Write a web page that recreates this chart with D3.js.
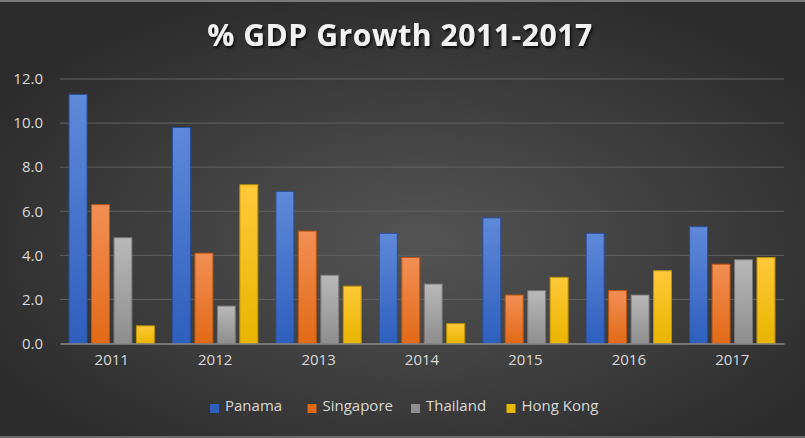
<!DOCTYPE html>
<html><head><meta charset="utf-8">
<script src="https://cdn.jsdelivr.net/npm/d3@7"></script>
<style>html,body{margin:0;padding:0;background:#333;}svg{display:block;}</style>
</head><body>
<script>
const categories = ["2011","2012","2013","2014","2015","2016","2017"];
const seriesNames = ["Panama","Singapore","Thailand","Hong Kong"];
const panama    = [11.3, 9.8, 6.9, 5.0, 5.7, 5.0, 5.3];
const singapore = [6.3, 4.1, 5.1, 3.9, 2.2, 2.4, 3.6];
const thailand  = [4.8, 1.7, 3.1, 2.7, 2.4, 2.2, 3.8];
const hongKong  = [0.8, 7.2, 2.6, 0.9, 3.0, 3.3, 3.9];
const yTicks = [0, 2, 4, 6, 8, 10, 12];
const title = "% GDP Growth 2011-2017";

const seriesValues = [panama, singapore, thailand, hongKong];
const colors = [
  {top:"#5f89da", bot:"#2e5fbd", stroke:"#2b4f96"},
  {top:"#f28f55", bot:"#e26a17", stroke:"#b85512"},
  {top:"#b9b9b9", bot:"#8e8e8e", stroke:"#767676"},
  {top:"#ffc93a", bot:"#e8b500", stroke:"#bf9400"}
];
const font = "'Open Sans', sans-serif";

const W = 805, H = 438;
const svg = d3.select("body").append("svg").attr("width", W).attr("height", H);
const defs = svg.append("defs");

const bg = defs.append("radialGradient").attr("id","bg").attr("cx","52%").attr("cy","55%").attr("r","60%");
bg.append("stop").attr("offset","0%").attr("stop-color","#545454");
bg.append("stop").attr("offset","100%").attr("stop-color","#2c2c2c");

colors.forEach((c,i)=>{
  const g = defs.append("linearGradient").attr("id","g"+i).attr("x1",0).attr("y1",0).attr("x2",0).attr("y2",1);
  g.append("stop").attr("offset","0%").attr("stop-color",c.top);
  g.append("stop").attr("offset","100%").attr("stop-color",c.bot);
});

const sh = defs.append("filter").attr("id","shadow").attr("x","-10%").attr("y","-30%").attr("width","120%").attr("height","160%");
sh.append("feDropShadow").attr("dx",1.5).attr("dy",2).attr("stdDeviation",1.2).attr("flood-color","#000").attr("flood-opacity",0.8);

svg.append("rect").attr("width",W).attr("height",H).attr("fill","url(#bg)");
svg.append("rect").attr("width",W).attr("height",2).attr("fill","#7a7a7a");
svg.append("rect").attr("y",H-2).attr("width",W).attr("height",2).attr("fill","#6a6a6a");

const margin = {left:60, right:21, top:79, bottom:94.5};
const x0 = d3.scaleBand().domain(categories).range([margin.left, W - margin.right]).paddingInner(0.175).paddingOuter(0.0875);
const x1 = d3.scaleBand().domain(seriesNames).range([0, x0.bandwidth()]).paddingInner(0.2).paddingOuter(0);
const y = d3.scaleLinear().domain([0,12]).range([H - margin.bottom, margin.top]);

// gridlines
svg.append("g").selectAll("line").data(yTicks.filter(d=>d>0)).join("line")
  .attr("x1", margin.left).attr("x2", W - margin.right)
  .attr("y1", d=>y(d)).attr("y2", d=>y(d))
  .attr("stroke","#626262").attr("stroke-width",1);

// y axis labels
const yAxis = d3.axisLeft(y).tickValues(yTicks).tickFormat(d3.format(".1f")).tickSize(0).tickPadding(0);
const ya = svg.append("g").attr("transform",`translate(${margin.left - 17},0)`).call(yAxis);
ya.select(".domain").remove();
ya.selectAll("text").attr("fill","#d9d9d9").style("font-family",font).style("font-size","15px");

// bars
const groups = svg.append("g").selectAll("g").data(categories).join("g")
  .attr("transform", d=>`translate(${x0(d)},0)`);
groups.selectAll("rect").data((d,ci)=>seriesNames.map((s,si)=>({s, si, v: seriesValues[si][ci]}))).join("rect")
  .attr("x", d=>x1(d.s)).attr("width", x1.bandwidth())
  .attr("y", d=>y(d.v)).attr("height", d=>y(0)-y(d.v))
  .attr("fill", d=>`url(#g${d.si})`)
  .attr("stroke", d=>colors[d.si].stroke).attr("stroke-width",1);

// x axis line and labels
const xAxis = d3.axisBottom(x0).tickSize(0).tickPadding(11);
const xa = svg.append("g").attr("transform",`translate(0,${y(0)})`).call(xAxis);
xa.select(".domain").attr("stroke","#8a8a8a").attr("stroke-width",1.5);
xa.selectAll("text").attr("fill","#d9d9d9").style("font-family",font).style("font-size","15px");

// title
svg.append("text").attr("x", 400).attr("y", 46).attr("text-anchor","middle")
  .attr("fill","#f2f2f2").attr("filter","url(#shadow)")
  .style("font-family",font).style("font-weight","bold").style("font-size","30px")
  .style("letter-spacing","0.6px")
  .text(title);

// legend
const legendX = [210, 307.5, 411, 506.5];
const lg = svg.append("g").selectAll("g").data(seriesNames).join("g")
  .attr("transform",(d,i)=>`translate(${legendX[i]},406)`);
lg.append("rect").attr("x",0).attr("y",-2).attr("width",9).attr("height",9)
  .attr("fill",(d,i)=>colors[i].bot);
lg.append("text").attr("x",15).attr("y",5).text(d=>d)
  .attr("fill","#d9d9d9").style("font-family",font).style("font-size","15px");
</script>
</body></html>
